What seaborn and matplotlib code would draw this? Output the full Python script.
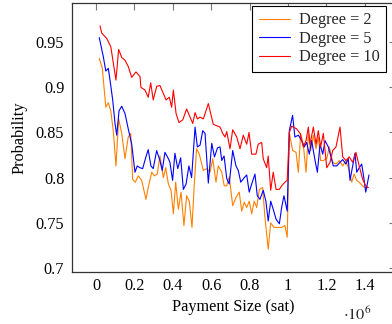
import matplotlib
matplotlib.use("Agg")
import matplotlib.pyplot as plt
from matplotlib.ticker import FixedLocator, FuncFormatter
import seaborn as sns
import pandas as pd

# Payment size in units of 10^6 sat
x_deg2 = [0.017, 0.033, 0.051, 0.064, 0.077, 0.090, 0.104, 0.118, 0.134, 0.151, 0.168, 0.181,
          0.191, 0.205, 0.220, 0.238, 0.260, 0.272, 0.290, 0.304, 0.319, 0.333, 0.351, 0.363,
          0.377, 0.391, 0.403, 0.415, 0.429, 0.443, 0.458, 0.472, 0.486, 0.500, 0.512, 0.524,
          0.538, 0.559, 0.577, 0.594, 0.608, 0.625, 0.637, 0.655, 0.668, 0.681, 0.694, 0.712,
          0.729, 0.746, 0.759, 0.772, 0.785, 0.798, 0.811, 0.824, 0.837, 0.851, 0.868, 0.880,
          0.897, 0.910, 0.927, 0.949, 0.967, 0.984, 0.996, 1.007, 1.024, 1.042, 1.054, 1.066,
          1.080, 1.094, 1.106, 1.118, 1.132, 1.146, 1.158, 1.170, 1.184, 1.202, 1.215, 1.233,
          1.250, 1.267, 1.285, 1.302, 1.314, 1.332, 1.344, 1.358, 1.371, 1.392, 1.406, 1.418]
y_deg2 = [0.932, 0.921, 0.878, 0.883, 0.874, 0.852, 0.813, 0.865, 0.849, 0.821, 0.845, 0.849,
          0.798, 0.795, 0.802, 0.797, 0.776, 0.789, 0.806, 0.802, 0.804, 0.824, 0.800, 0.811,
          0.793, 0.786, 0.760, 0.795, 0.765, 0.784, 0.747, 0.780, 0.774, 0.745, 0.793, 0.832,
          0.826, 0.808, 0.810, 0.806, 0.821, 0.795, 0.813, 0.806, 0.791, 0.791, 0.801, 0.769,
          0.778, 0.784, 0.763, 0.773, 0.767, 0.774, 0.760, 0.774, 0.767, 0.787, 0.789, 0.756,
          0.721, 0.750, 0.745, 0.745, 0.745, 0.747, 0.734, 0.850, 0.830, 0.828, 0.806, 0.849,
          0.836, 0.806, 0.849, 0.830, 0.847, 0.832, 0.845, 0.819, 0.819, 0.821, 0.834, 0.817,
          0.815, 0.819, 0.813, 0.819, 0.811, 0.795, 0.804, 0.797, 0.795, 0.790, 0.789, 0.789]

x_deg5 = [0.017, 0.038, 0.051, 0.064, 0.073, 0.087, 0.099, 0.108, 0.120, 0.134, 0.151, 0.168,
          0.186, 0.203, 0.215, 0.229, 0.243, 0.260, 0.272, 0.286, 0.298, 0.316, 0.333, 0.345,
          0.359, 0.377, 0.385, 0.399, 0.411, 0.426, 0.441, 0.455, 0.469, 0.484, 0.498, 0.516,
          0.528, 0.542, 0.556, 0.568, 0.585, 0.603, 0.617, 0.633, 0.646, 0.655, 0.667, 0.681,
          0.694, 0.712, 0.729, 0.741, 0.754, 0.772, 0.785, 0.798, 0.811, 0.828, 0.840, 0.854,
          0.871, 0.885, 0.897, 0.910, 0.923, 0.938, 0.955, 0.967, 0.979, 0.996, 1.007, 1.024,
          1.036, 1.054, 1.071, 1.085, 1.097, 1.111, 1.123, 1.141, 1.153, 1.167, 1.181, 1.193,
          1.210, 1.224, 1.236, 1.254, 1.271, 1.285, 1.302, 1.314, 1.323, 1.337, 1.349, 1.358,
          1.371, 1.384, 1.397, 1.405, 1.413, 1.422]
y_deg5 = [0.955, 0.934, 0.918, 0.921, 0.908, 0.886, 0.860, 0.847, 0.874, 0.879, 0.871, 0.854,
          0.837, 0.806, 0.813, 0.811, 0.810, 0.823, 0.831, 0.813, 0.810, 0.830, 0.819, 0.808,
          0.828, 0.821, 0.817, 0.797, 0.827, 0.810, 0.822, 0.787, 0.793, 0.813, 0.800, 0.856,
          0.834, 0.836, 0.852, 0.849, 0.794, 0.838, 0.823, 0.833, 0.834, 0.819, 0.824, 0.799,
          0.793, 0.830, 0.813, 0.808, 0.795, 0.800, 0.803, 0.784, 0.793, 0.804, 0.780, 0.776,
          0.786, 0.774, 0.752, 0.774, 0.765, 0.754, 0.749, 0.767, 0.780, 0.763, 0.852, 0.869,
          0.845, 0.847, 0.841, 0.834, 0.839, 0.826, 0.841, 0.819, 0.806, 0.837, 0.826, 0.841,
          0.834, 0.823, 0.813, 0.813, 0.817, 0.820, 0.815, 0.821, 0.797, 0.813, 0.827, 0.806,
          0.811, 0.815, 0.797, 0.784, 0.793, 0.803]

x_deg10 = [0.021, 0.030, 0.056, 0.077, 0.104, 0.118, 0.134, 0.151, 0.168, 0.186, 0.208, 0.229,
           0.234, 0.255, 0.272, 0.285, 0.298, 0.316, 0.333, 0.365, 0.382, 0.394, 0.403, 0.417,
           0.432, 0.452, 0.472, 0.490, 0.504, 0.516, 0.528, 0.542, 0.559, 0.585, 0.611, 0.646,
           0.660, 0.672, 0.681, 0.698, 0.712, 0.733, 0.750, 0.767, 0.785, 0.797, 0.811, 0.833,
           0.845, 0.863, 0.871, 0.889, 0.897, 0.910, 0.923, 0.938, 0.955, 0.967, 0.984, 0.996,
           1.007, 1.019, 1.045, 1.063, 1.080, 1.094, 1.106, 1.115, 1.132, 1.146, 1.158, 1.170,
           1.184, 1.202, 1.219, 1.233, 1.250, 1.271, 1.285, 1.302, 1.319, 1.337, 1.354, 1.371,
           1.389, 1.405, 1.418]
y_deg10 = [0.968, 0.960, 0.954, 0.945, 0.908, 0.942, 0.933, 0.930, 0.923, 0.911, 0.917, 0.912,
           0.900, 0.897, 0.889, 0.905, 0.886, 0.901, 0.902, 0.886, 0.889, 0.878, 0.897, 0.871,
           0.861, 0.864, 0.876, 0.867, 0.860, 0.872, 0.865, 0.867, 0.865, 0.882, 0.859, 0.856,
           0.849, 0.845, 0.851, 0.832, 0.853, 0.845, 0.832, 0.847, 0.837, 0.850, 0.826, 0.826,
           0.837, 0.839, 0.821, 0.811, 0.824, 0.786, 0.806, 0.787, 0.787, 0.791, 0.795, 0.797,
           0.850, 0.857, 0.854, 0.849, 0.834, 0.841, 0.856, 0.837, 0.856, 0.837, 0.852, 0.834,
           0.849, 0.811, 0.817, 0.830, 0.834, 0.856, 0.823, 0.819, 0.823, 0.817, 0.828, 0.813,
           0.798, 0.791, 0.789]

series_names = ["Degree = 2", "Degree = 5", "Degree = 10"]
series_colors = ["#ff8000", "#0000ff", "#ff0000"]
x_ticks = [0, 0.2, 0.4, 0.6, 0.8, 1.0, 1.2, 1.4]
y_ticks = [0.7, 0.75, 0.8, 0.85, 0.9, 0.95]

frames = []
for name, xs, ys in zip(series_names, [x_deg2, x_deg5, x_deg10], [y_deg2, y_deg5, y_deg10]):
    frames.append(pd.DataFrame({"x": xs, "y": ys, "series": name}))
df = pd.concat(frames, ignore_index=True)

sns.set_theme(style="white")
plt.rcParams["font.family"] = ["Liberation Serif", "DejaVu Serif"]
plt.rcParams["mathtext.fontset"] = "stix"

W, H = 392, 324
fig = plt.figure(figsize=(W / 100, H / 100), dpi=100)
ax = fig.add_axes([72 / W, (H - 272) / H, (395.5 - 72) / W, (272 - 3) / H])

sns.lineplot(data=df, x="x", y="y", hue="series", hue_order=series_names,
             palette=dict(zip(series_names, series_colors)), estimator=None,
             sort=False, linewidth=0.8, ax=ax, legend=False)

ax.set_xlim(-0.125, 1.56)
ax.set_ylim(0.6956, 0.9933)
ax.xaxis.set_major_locator(FixedLocator(x_ticks))
ax.yaxis.set_major_locator(FixedLocator(y_ticks))
fmt = FuncFormatter(lambda v, p: f"{v:g}")
ax.xaxis.set_major_formatter(fmt)
ax.yaxis.set_major_formatter(fmt)

fs = 11.7
ax.tick_params(axis="both", which="major", direction="in", top=True, right=True,
               length=5, width=0.8, color="#777777", labelsize=fs, labelcolor="black")
ax.tick_params(axis="x", pad=4)
ax.tick_params(axis="y", pad=5.5)
for sp in ax.spines.values():
    sp.set_color("#333333")
    sp.set_linewidth(0.9)

ax.set_xlabel("Payment Size (sat)", fontsize=fs, color="black", labelpad=4)
ax.set_ylabel("Probability", fontsize=fs, color="black", labelpad=6)

fig.text(357 / W, (H - 315) / H, r"$\cdot 10^{6}$", fontsize=fs, ha="center", va="center")

handles = [plt.Line2D([], [], color=c, lw=0.8) for c in series_colors]
leg = ax.legend(handles, series_names, loc="upper right",
                bbox_to_anchor=(386 / W, (H - 6) / H), bbox_transform=fig.transFigure,
                borderaxespad=0, fontsize=fs, frameon=True, fancybox=False,
                framealpha=1, edgecolor="black", handlelength=1.9, handletextpad=0.55,
                labelspacing=0.15, borderpad=0.4)
leg.get_frame().set_linewidth(0.8)

fig.savefig("out.png", dpi=100)
